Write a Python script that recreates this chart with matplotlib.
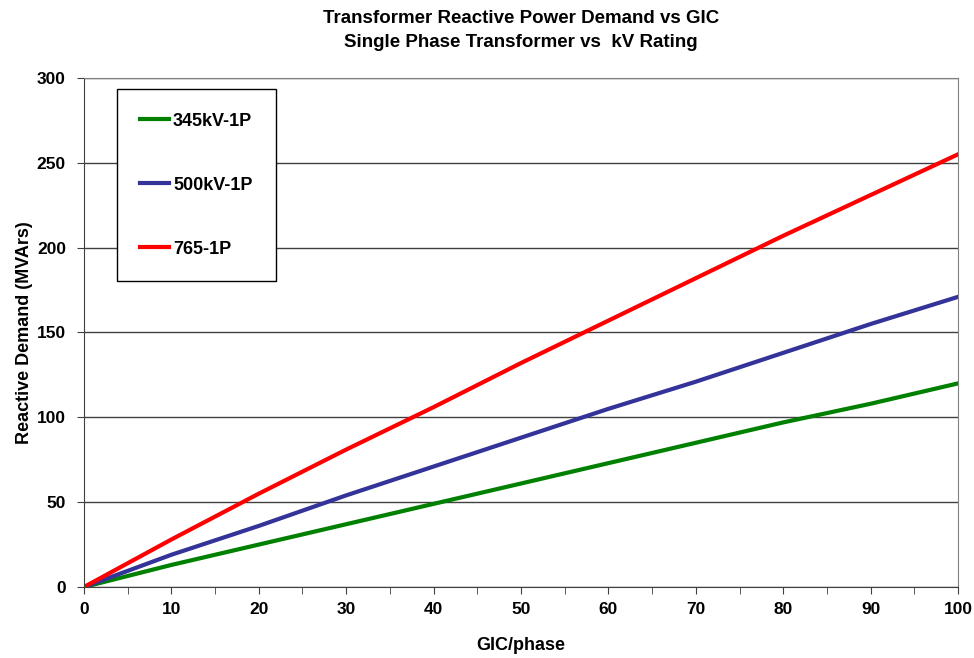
import numpy as np
import matplotlib.pyplot as plt

plt.rcParams['font.family'] = ['Liberation Sans', 'DejaVu Sans']
plt.rcParams['font.weight'] = 'bold'

gic = [0, 10, 20, 30, 40, 50, 60, 70, 80, 90, 100]
q_345 = [0, 13, 25, 37, 49, 61, 73, 85, 97, 108, 120]
q_500 = [0, 19, 36, 54, 71, 88, 105, 121, 138, 155, 171]
q_765 = [0, 28, 55, 81, 106, 132, 157, 182, 207, 231, 255]

fig = plt.figure(figsize=(9.74, 6.58), dpi=100)
ax = fig.add_axes([0.0862, 0.1079, 0.8974, 0.7736])

ax.plot(gic, q_345, color='#008000', lw=3, label='345kV-1P')
ax.plot(gic, q_500, color='#333399', lw=3, label='500kV-1P')
ax.plot(gic, q_765, color='#ff0000', lw=3, label='765-1P')

ax.set_xlim(0, 100)
ax.set_ylim(0, 300)
ax.set_xticks(range(0, 101, 10))
ax.set_xticks(range(0, 101, 5), minor=True)
ax.set_yticks(range(0, 301, 50))
ax.yaxis.grid(True, color='#404040', lw=1)
ax.set_axisbelow(True)
for s in ['top', 'right']:
    ax.spines[s].set_color('#808080')
ax.spines['left'].set_color('#404040')
ax.spines['bottom'].set_color('#404040')
ax.tick_params(axis='both', which='both', direction='out', length=5, color='#404040',
               labelsize=12.5)
ax.tick_params(axis='x', which='minor', length=5)
ax.tick_params(axis='x', pad=6)
ax.tick_params(axis='y', pad=8)
for lab in ax.get_xticklabels() + ax.get_yticklabels():
    lab.set_fontweight('bold')

ax.set_xlabel('GIC/phase', fontsize=13, fontweight='bold', labelpad=14)
ax.set_ylabel('Reactive Demand (MVArs)', fontsize=13, fontweight='bold', labelpad=3)
ax.set_title('Transformer Reactive Power Demand vs GIC\nSingle Phase Transformer vs  kV Rating',
             fontsize=13.5, fontweight='bold', pad=22, linespacing=1.6)

leg = ax.legend(loc='upper left', bbox_to_anchor=(0.0378, 0.978), fancybox=False,
                edgecolor='black', framealpha=1, fontsize=13, labelspacing=2.6,
                handlelength=1.6, handletextpad=0.2, borderpad=1.3, borderaxespad=0)
leg.get_frame().set_linewidth(1)

fig.savefig('out.png', dpi=100)
